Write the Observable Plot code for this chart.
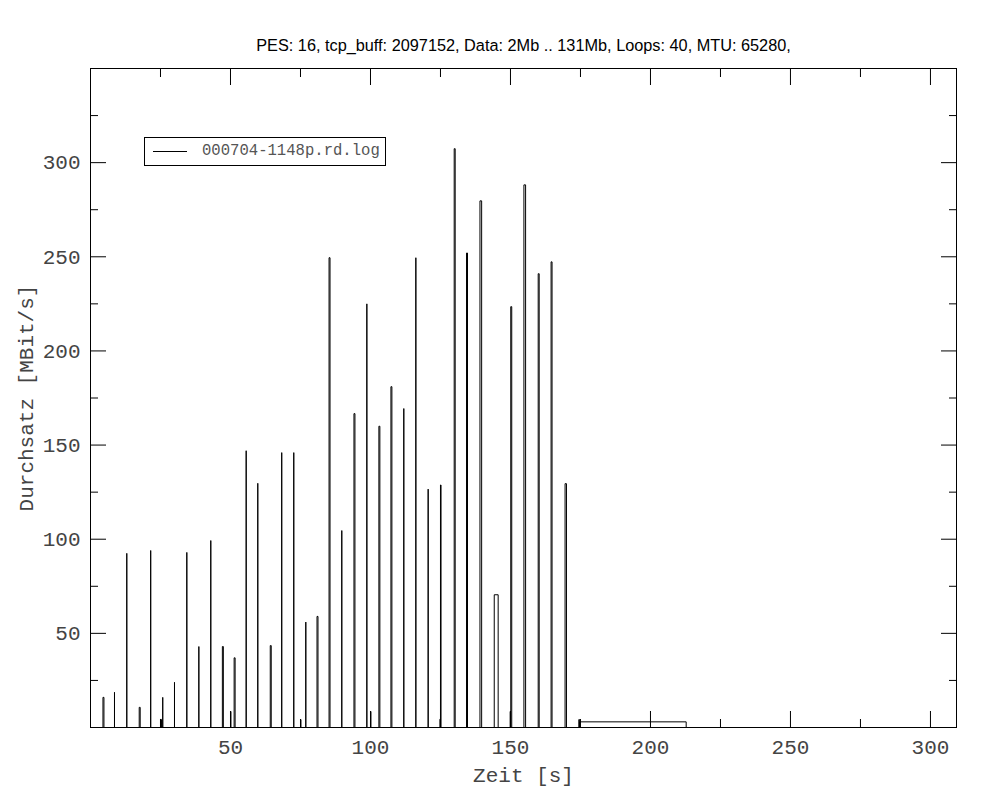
<!DOCTYPE html>
<html><head><meta charset="utf-8">
<script src="https://cdn.jsdelivr.net/npm/d3@7"></script>
<script src="https://cdn.jsdelivr.net/npm/@observablehq/plot@0.6"></script>
<style>
body{margin:0;background:#fff;}
#wrap{position:relative;width:1000px;height:800px;}
#legend{position:absolute;left:144px;top:137px;width:242px;height:29px;border:1px solid #000;box-sizing:border-box;background:#fff;font-family:"Liberation Mono",monospace;font-size:15.6px;color:#555;}
#legend .sw{position:absolute;left:8px;top:13px;width:34px;height:0;border-top:1px solid #000;}
#legend .lb{position:absolute;left:57px;top:0;line-height:27px;white-space:nowrap;}
</style></head>
<body><div id="wrap"></div>
<script>
// ---- data ----
const title = "PES: 16, tcp_buff: 2097152, Data: 2Mb .. 131Mb, Loops: 40, MTU: 65280,";
const legendLabel = "000704-1148p.rd.log";
const xLabel = "Zeit [s]";
const yLabel = "Durchsatz [MBit/s]";
const xDomain = [0, 309.3];
const yDomain = [0, 350];
const xMajor = [50, 100, 150, 200, 250, 300];
const xMinor = [25, 75, 125, 175, 225, 275];
const yMajor = [50, 100, 150, 200, 250, 300];
const yMinor = [25, 75, 125, 175, 225, 275, 325];
// each measurement interval: start time, end time (s), throughput (MBit/s)
const spikeStart = [4.45, 8.57, 12.96, 17.4, 21.5, 25.0, 25.8, 30.0, 34.4, 38.7, 42.96, 47.1, 50.1, 51.3, 55.6, 59.75, 64.2, 68.3, 72.6, 75.1, 76.9, 80.9, 85.2, 89.75, 94.1, 98.7, 100.1, 103.0, 107.3, 111.9, 116.2, 120.6, 124.8, 125.0, 129.9, 134.3, 139.1, 144.2, 149.9, 150.1, 154.8, 159.9, 164.5, 169.5, 174.4, 174.7];
const spikeEnd   = [4.8, 8.57, 12.96, 17.75, 21.5, 25.35, 25.8, 30.0, 34.4, 38.7, 42.96, 47.45, 50.1, 51.65, 55.6, 59.75, 64.55, 68.3, 72.6, 75.1, 76.9, 81.25, 85.55, 89.75, 94.45, 98.7, 100.1, 103.35, 107.65, 111.9, 116.2, 120.6, 125.0, 125.2, 130.25, 134.65, 139.7, 145.6, 150.0, 150.45, 155.4, 160.25, 164.85, 170.0, 174.7, 212.75];
const spikeValue = [16, 18.7, 92.5, 10.7, 94, 4.3, 16, 24, 93, 43, 99.3, 43, 8.5, 37, 147, 129.7, 43.5, 146, 146, 4.2, 56, 59, 249.5, 104.6, 166.7, 225, 8.5, 160, 181, 169.4, 249.5, 126.6, 4.4, 128.8, 307.4, 252, 279.7, 70.5, 8.5, 223.5, 288.2, 241, 247.3, 129.5, 4.2, 3.0];

// step path built from the intervals
const path = [{t: 0, v: 0}];
spikeStart.forEach((s, i) => {
  path.push({t: s, v: 0}, {t: s, v: spikeValue[i]}, {t: spikeEnd[i], v: spikeValue[i]}, {t: spikeEnd[i], v: 0});
});

const tickAxes = [];
for (const anchor of ["bottom", "top"]) {
  tickAxes.push(Plot.axisX({anchor, ticks: xMajor, tickSize: -16, fill: "none", label: null, stroke: "#000"}));
  tickAxes.push(Plot.axisX({anchor, ticks: xMinor, tickSize: -8, fill: "none", label: null, stroke: "#000"}));
}
for (const anchor of ["left", "right"]) {
  tickAxes.push(Plot.axisY({anchor, ticks: yMajor, tickSize: -16, fill: "none", label: null, stroke: "#000"}));
  tickAxes.push(Plot.axisY({anchor, ticks: yMinor, tickSize: -8, fill: "none", label: null, stroke: "#000"}));
}

const chart = Plot.plot({
  width: 1000, height: 800,
  marginLeft: 90, marginRight: 44, marginTop: 68, marginBottom: 73,
  x: {domain: xDomain},
  y: {domain: yDomain},
  style: {fontFamily: "'Liberation Mono', monospace", fontSize: "21px", background: "#fff", color: "#000"},
  marks: [
    Plot.line(path, {x: "t", y: "v", stroke: "#000", strokeWidth: 1}),
    Plot.frame({stroke: "#000"}),
    ...tickAxes,
    Plot.axisX({anchor: "bottom", ticks: xMajor, tickSize: 0, tickPadding: 12, fill: "#444", label: xLabel, labelAnchor: "center", labelOffset: 54, labelArrow: "none"}),
    Plot.axisY({anchor: "left", ticks: yMajor, tickSize: 0, tickPadding: 10, fill: "#444", fontSize: 21, label: yLabel, labelAnchor: "center", labelOffset: 72, labelArrow: "none"}),
    Plot.text([title], {frameAnchor: "top", dy: -29, fontFamily: "'Liberation Sans', Arial, sans-serif", fontSize: 16.3, fill: "#000"})
  ]
});
const wrap = document.getElementById("wrap");
wrap.appendChild(chart);
const leg = document.createElement("div");
leg.id = "legend";
leg.innerHTML = '<div class="sw"></div><div class="lb"></div>';
leg.querySelector(".lb").textContent = legendLabel;
wrap.appendChild(leg);
</script>
</body></html>
